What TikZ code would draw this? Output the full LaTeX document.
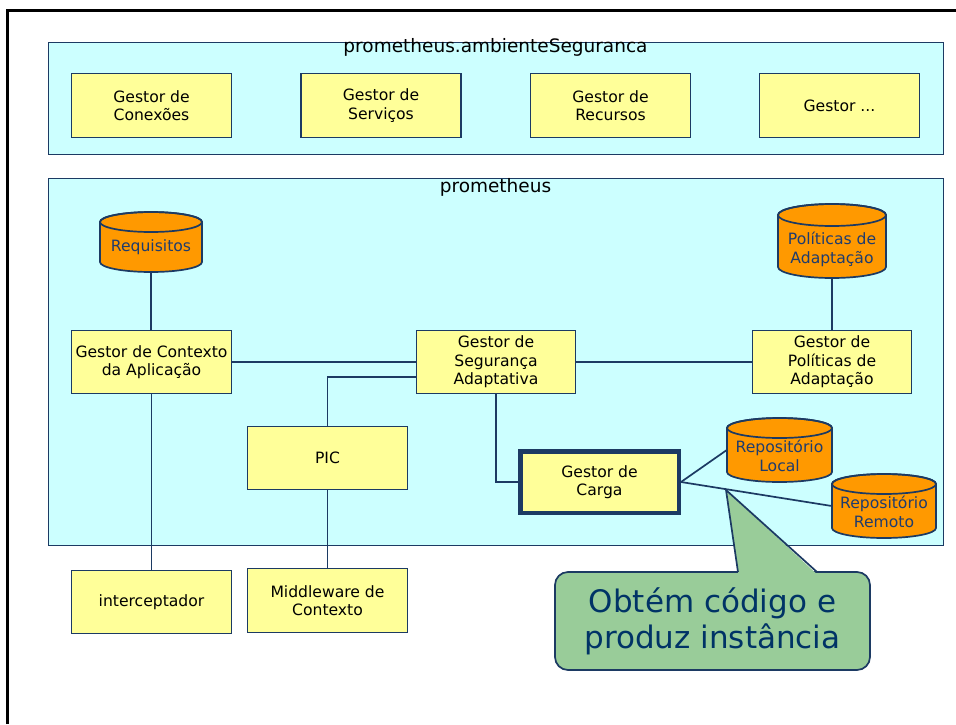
\documentclass[tikz,border=0pt]{standalone}
\usepackage{fontspec}
\setmainfont{DejaVu Sans}
\definecolor{navy}{HTML}{1C3A63}
\definecolor{cyanc}{HTML}{CCFFFF}
\definecolor{ylw}{HTML}{FFFF99}
\definecolor{orng}{HTML}{FF9900}
\definecolor{grn}{HTML}{99CC99}
\definecolor{cyltxt}{HTML}{1F3C6E}
\definecolor{calltxt}{HTML}{003366}
\newcommand\drumshape[5]{% cx, top, bottom, rx, ry
  \path[fill=orng, draw=navy, line width=1.7pt] (#1-#4, #2+#5) -- (#1-#4, #3-#5)
    arc[start angle=180, end angle=0, x radius=#4, y radius=#5] -- (#1+#4, #2+#5)
    arc[start angle=0, end angle=-180, x radius=#4, y radius=#5] -- cycle;
  \draw[navy, line width=1.7pt] (#1, #2+#5) ellipse[x radius=#4, y radius=#5];
}
\begin{document}
\begin{tikzpicture}[x=1pt, y=-1pt,
  box/.style={draw=navy, fill=ylw, line width=1.7pt, align=center, inner sep=0pt,
    font=\fontsize{15.6}{18.5}\selectfont, text=black},
  frame/.style={draw=navy, fill=cyanc, line width=1.7pt, inner sep=0pt},
  title/.style={font=\fontsize{18.5}{22}\selectfont, inner sep=0pt, anchor=base},
  cyltext/.style={text=cyltxt, align=center, font=\fontsize{15.6}{19}\selectfont, inner sep=0pt},
  geom/.style={inner sep=0pt},
  conn/.style={draw=navy, line width=1.7pt},
  callbox/.style={draw=navy, fill=grn, line width=1.7pt, rounded corners=13pt, align=center,
    text=calltxt, font=\fontsize{31}{36}\selectfont, inner sep=0pt}
]
\useasboundingbox (0,0) rectangle (956,724);
\fill[white] (0,0) rectangle (956,724);
% outer frame
\draw[black, line width=3pt] (7,724) -- (7,10.5) -- (956,10.5);

% top frame
\node[frame, minimum width=895, minimum height=112] (env) at (496,98.5) {};
\node[title] (envtitle) at (495.5,52.5) {prometheus.ambienteSeguranca};
\node[box, minimum width=160, minimum height=64] (gcon) at (151.5,105.5) {Gestor de\\Conexões};
\node[box, minimum width=160, minimum height=64] (gser) at (381,105.5) {Gestor de\\Serviços};
\node[box, minimum width=160, minimum height=64] (grec) at (610.5,105.5) {Gestor de\\Recursos};
\node[box, minimum width=160, minimum height=64] (getc) at (839.5,105.5) {Gestor ...};

% prometheus frame
\node[frame, minimum width=895, minimum height=367] (prom) at (496,362) {};
\node[title] (promtitle) at (495.5,192.5) {prometheus};

% cylinders
\drumshape{151}{212}{272}{51}{10}
\drumshape{832}{204}{278}{54}{11}
\drumshape{779.5}{418}{482}{52.5}{10}
\drumshape{884}{474}{538}{52}{10}
\node[geom, minimum width=102, minimum height=60] (req) at (151,242) {};
\node[geom, minimum width=108, minimum height=74] (polc) at (832,241) {};
\node[geom, minimum width=105, minimum height=64] (rl) at (779.5,450) {};
\node[geom, minimum width=104, minimum height=64] (rr) at (884,506) {};
\node[cyltext] (reqt) at (151,247) {Requisitos};
\node[cyltext] (polct) at (832,249) {Políticas de\\Adaptação};
\node[cyltext] (rlt) at (779.5,456) {Repositório\\Local};
\node[cyltext] (rrt) at (884,512) {Repositório\\Remoto};

% boxes
\node[box, minimum width=160, minimum height=63] (ctx) at (151.5,362) {Gestor de Contexto\\da Aplicação};
\node[box, minimum width=159, minimum height=63] (seg) at (496,362) {Gestor de\\Segurança\\Adaptativa};
\node[box, minimum width=159, minimum height=63] (pol) at (832,362) {Gestor de\\Políticas de\\Adaptação};
\node[box, minimum width=160, minimum height=63] (pic) at (327.5,458) {PIC};
\node[box, line width=4.5pt, minimum width=158.5, minimum height=61.5] (carga) at (599.5,482) {Gestor de\\Carga};
\node[box, minimum width=160, minimum height=63] (inter) at (151.5,602) {interceptador};
\node[box, minimum width=160, minimum height=64] (mid) at (327.5,600.5) {Middleware de\\Contexto};

% connectors
\draw[conn] (req.south) -- (req.south |- ctx.north);
\draw[conn] (polc.south) -- (pol.north);
\draw[conn] (ctx.east) -- (seg.west);
\draw[conn] (seg.east) -- (pol.west);
\draw[conn] ([yshift=-15pt]seg.west) -| (pic.north);
\draw[conn] (ctx.south) -- (inter.north);
\draw[conn] (pic.south) -- (mid.north);
\draw[conn] (seg.south) |- (carga.west);
\draw[conn] (carga.east) -- (rl.west);
\draw[conn] (carga.east) -- (rr.west);

% callout
\coordinate (tip) at (726,490);
\node[callbox, minimum width=315, minimum height=98] (call) at (712.5,621) {Obtém código e\\produz instância};
\fill[grn] (738.3,574) -- (tip) -- (816.7,574) -- cycle;
\draw[conn] (738,572) -- (tip) -- (817,572);
\end{tikzpicture}
\end{document}
